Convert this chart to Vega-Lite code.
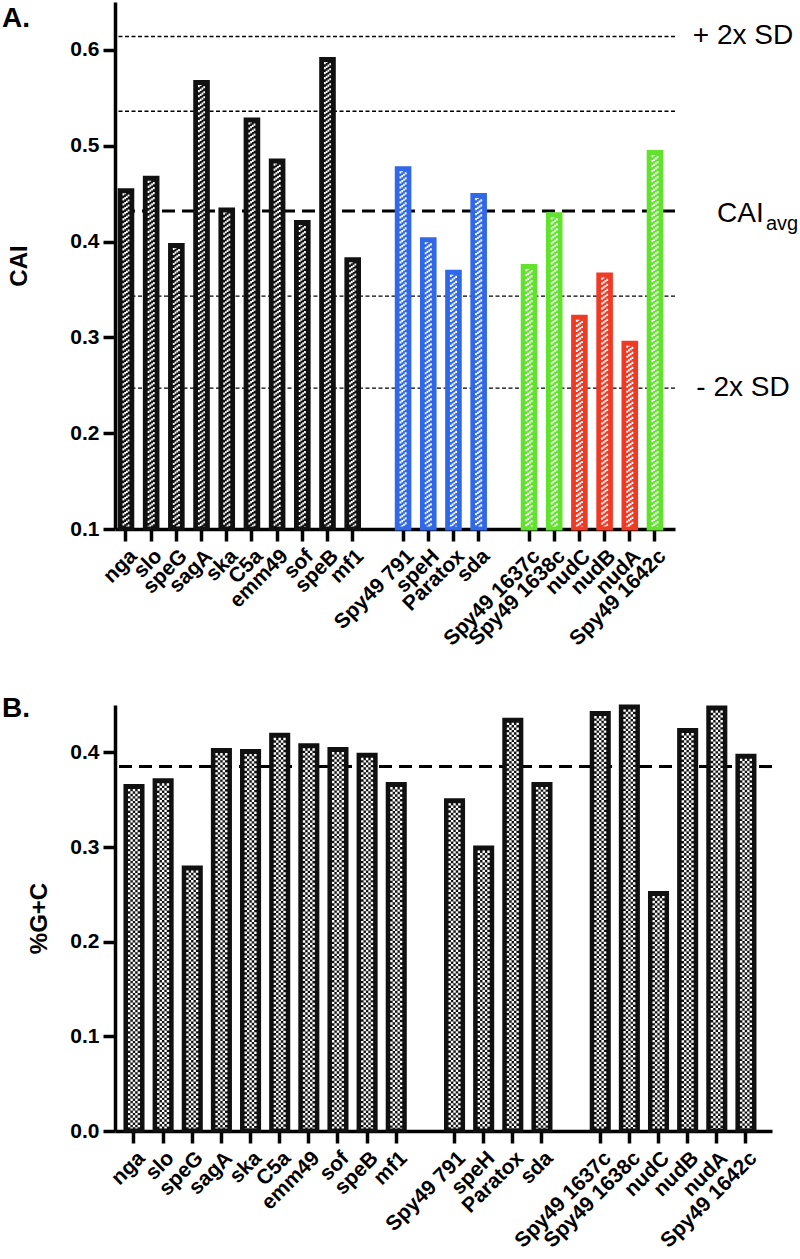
{
  "$schema": "https://vega.github.io/schema/vega-lite/v6.json",
  "background": "white",
  "padding": {"left": 2, "top": 2, "right": 0, "bottom": 0},
  "spacing": 45,
  "datasets": {
    "cai": [
      {"gene": "nga", "CAI": 0.454, "set": "virulence"},
      {"gene": "slo", "CAI": 0.467, "set": "virulence"},
      {"gene": "speG", "CAI": 0.397, "set": "virulence"},
      {"gene": "sagA", "CAI": 0.567, "set": "virulence"},
      {"gene": "ska", "CAI": 0.434, "set": "virulence"},
      {"gene": "C5a", "CAI": 0.528, "set": "virulence"},
      {"gene": "emm49", "CAI": 0.485, "set": "virulence"},
      {"gene": "sof", "CAI": 0.421, "set": "virulence"},
      {"gene": "speB", "CAI": 0.591, "set": "virulence"},
      {"gene": "mf1", "CAI": 0.382, "set": "virulence"},
      {"gene": "Spy49 791", "CAI": 0.477, "set": "prophage"},
      {"gene": "speH", "CAI": 0.403, "set": "prophage"},
      {"gene": "Paratox", "CAI": 0.369, "set": "prophage"},
      {"gene": "sda", "CAI": 0.449, "set": "prophage"},
      {"gene": "Spy49 1637c", "CAI": 0.375, "set": "locus"},
      {"gene": "Spy49 1638c", "CAI": 0.429, "set": "locus"},
      {"gene": "nudC", "CAI": 0.322, "set": "nudix"},
      {"gene": "nudB", "CAI": 0.366, "set": "nudix"},
      {"gene": "nudA", "CAI": 0.295, "set": "nudix"},
      {"gene": "Spy49 1642c", "CAI": 0.494, "set": "locus"}
    ],
    "gc": [
      {"gene": "nga", "GC": 0.365},
      {"gene": "slo", "GC": 0.371},
      {"gene": "speG", "GC": 0.279},
      {"gene": "sagA", "GC": 0.403},
      {"gene": "ska", "GC": 0.402},
      {"gene": "C5a", "GC": 0.419},
      {"gene": "emm49", "GC": 0.408},
      {"gene": "sof", "GC": 0.404},
      {"gene": "speB", "GC": 0.398},
      {"gene": "mf1", "GC": 0.367},
      {"gene": "Spy49 791", "GC": 0.350},
      {"gene": "speH", "GC": 0.300},
      {"gene": "Paratox", "GC": 0.435},
      {"gene": "sda", "GC": 0.367},
      {"gene": "Spy49 1637c", "GC": 0.442},
      {"gene": "Spy49 1638c", "GC": 0.449},
      {"gene": "nudC", "GC": 0.252},
      {"gene": "nudB", "GC": 0.424},
      {"gene": "nudA", "GC": 0.448},
      {"gene": "Spy49 1642c", "GC": 0.397}
    ],
    "sd": [
      {"line": "plus2", "value": 0.614, "label": "+ 2x SD"},
      {"line": "plus1", "value": 0.536, "label": ""},
      {"line": "minus1", "value": 0.343, "label": ""},
      {"line": "minus2", "value": 0.247, "label": "- 2x SD"}
    ],
    "avg": [{"value": 0.432, "label": "CAI", "sub": "avg"}],
    "gcavg": [{"value": 0.385}]
  },
  "config": {
    "view": {"stroke": null},
    "font": "Liberation Sans",
    "axis": {
      "grid": false,
      "domainColor": "black",
      "domainWidth": 3.5,
      "tickColor": "black",
      "tickWidth": 3.5,
      "tickSize": 12,
      "labelColor": "black",
      "labelFont": "Liberation Sans",
      "labelFontWeight": "bold",
      "titleFont": "Liberation Sans",
      "titleFontWeight": "bold",
      "titleColor": "black"
    },
    "axisY": {"labelFontSize": 21, "labelPadding": 4},
    "axisX": {"labelFontSize": 21, "labelAngle": -45, "labelPadding": 4}
  },
  "vconcat": [
    {
      "width": 560,
      "height": 527,
      "title": {"text": "A.", "anchor": "start", "frame": "group", "dx": -113, "offset": -53, "baseline": "alphabetic", "fontSize": 28, "fontWeight": "bold", "font": "Liberation Sans", "color": "black"},
      "layer": [
        {
          "data": {"name": "sd"},
          "mark": {"type": "rule", "color": "black", "strokeWidth": 1.3, "strokeDash": [4, 2.5]},
          "encoding": {"y": {"field": "value", "type": "quantitative", "scale": {"domain": [0.1, 0.65], "zero": false, "nice": false}}}
        },
        {
          "data": {"name": "avg"},
          "mark": {"type": "rule", "color": "black", "strokeWidth": 3, "strokeDash": [13, 7]},
          "encoding": {"y": {"field": "value", "type": "quantitative"}}
        },
        {
          "data": {"name": "cai"},
          "mark": {"type": "bar", "strokeWidth": 3},
          "encoding": {
            "x": {
              "field": "gene", "type": "nominal", "sort": null,
              "scale": {"domain": ["nga","slo","speG","sagA","ska","C5a","emm49","sof","speB","mf1","gap1","Spy49 791","speH","Paratox","sda","gap2","Spy49 1637c","Spy49 1638c","nudC","nudB","nudA","Spy49 1642c"], "paddingInner": 0.46, "paddingOuter": 0.345, "align": 0.24},
              "axis": {"title": null, "labelExpr": "indexof(datum.value,'gap')===0 ? '' : datum.value", "tickOpacity": {"condition": {"test": "indexof(datum.value,'gap')===0", "value": 0}, "value": 1}}
            },
            "y": {"field": "CAI", "type": "quantitative", "scale": {"domain": [0.1, 0.65], "zero": false, "nice": false}, "axis": {"title": "CAI", "titleFontSize": 24, "titlePadding": 38, "values": [0.1, 0.2, 0.3, 0.4, 0.5, 0.6], "format": ".1f"}},
            "y2": {"datum": 0.1},
            "fill": {"field": "set", "type": "nominal", "scale": {"domain": ["virulence","prophage","locus","nudix"], "range": ["#111111","#3068e8","#62e22f","#ee3b26"]}, "legend": null},
            "stroke": {"field": "set", "type": "nominal", "scale": {"domain": ["virulence","prophage","locus","nudix"], "range": ["#111111","#3068e8","#62e22f","#ee3b26"]}, "legend": null}
          }
        },
        {
          "data": {"name": "cai"},
          "mark": {"type": "rule", "color": "white", "strokeWidth": 1.75, "strokeDash": [2.2, 2.8], "strokeDashOffset": 0, "xOffset": -2.625, "yOffset": 3.5, "y2Offset": -2.5},
          "encoding": {"x": {"field": "gene", "type": "nominal"}, "y": {"field": "CAI", "type": "quantitative"}, "y2": {"datum": 0.1}}
        },
        {
          "data": {"name": "cai"},
          "mark": {"type": "rule", "color": "white", "strokeWidth": 1.75, "strokeDash": [2.2, 2.8], "strokeDashOffset": 1.3, "xOffset": -0.875, "yOffset": 3.5, "y2Offset": -2.5},
          "encoding": {"x": {"field": "gene", "type": "nominal"}, "y": {"field": "CAI", "type": "quantitative"}, "y2": {"datum": 0.1}}
        },
        {
          "data": {"name": "cai"},
          "mark": {"type": "rule", "color": "white", "strokeWidth": 1.75, "strokeDash": [2.2, 2.8], "strokeDashOffset": 2.6, "xOffset": 0.875, "yOffset": 3.5, "y2Offset": -2.5},
          "encoding": {"x": {"field": "gene", "type": "nominal"}, "y": {"field": "CAI", "type": "quantitative"}, "y2": {"datum": 0.1}}
        },
        {
          "data": {"name": "cai"},
          "mark": {"type": "rule", "color": "white", "strokeWidth": 1.75, "strokeDash": [2.2, 2.8], "strokeDashOffset": 3.9, "xOffset": 2.625, "yOffset": 3.5, "y2Offset": -2.5},
          "encoding": {"x": {"field": "gene", "type": "nominal"}, "y": {"field": "CAI", "type": "quantitative"}, "y2": {"datum": 0.1}}
        },
        {
          "data": {"name": "sd"},
          "transform": [{"filter": "datum.label !== ''"}],
          "mark": {"type": "text", "align": "center", "baseline": "middle", "dx": 68, "fontSize": 28, "font": "Liberation Sans", "color": "black"},
          "encoding": {"x": {"value": "width"}, "y": {"field": "value", "type": "quantitative"}, "text": {"field": "label"}}
        },
        {
          "data": {"name": "avg"},
          "mark": {"type": "text", "align": "left", "baseline": "alphabetic", "dx": 42, "dy": 11, "fontSize": 28, "font": "Liberation Sans", "color": "black"},
          "encoding": {"x": {"value": "width"}, "y": {"field": "value", "type": "quantitative"}, "text": {"field": "label"}}
        },
        {
          "data": {"name": "avg"},
          "mark": {"type": "text", "align": "left", "baseline": "alphabetic", "dx": 91, "dy": 19, "fontSize": 20, "font": "Liberation Sans", "color": "black"},
          "encoding": {"x": {"value": "width"}, "y": {"field": "value", "type": "quantitative"}, "text": {"field": "sub"}}
        }
      ]
    },
    {
      "width": 657,
      "height": 426,
      "title": {"text": "B.", "anchor": "start", "frame": "group", "dx": -113, "offset": -41, "baseline": "alphabetic", "fontSize": 28, "fontWeight": "bold", "font": "Liberation Sans", "color": "black"},
      "layer": [
        {
          "data": {"name": "gcavg"},
          "mark": {"type": "rule", "color": "black", "strokeWidth": 3, "strokeDash": [13, 7]},
          "encoding": {"y": {"field": "value", "type": "quantitative", "scale": {"domain": [0, 0.45], "nice": false}}}
        },
        {
          "data": {"name": "gc"},
          "mark": {"type": "bar", "strokeWidth": 3, "fill": "#111111", "stroke": "#111111"},
          "encoding": {
            "x": {
              "field": "gene", "type": "nominal", "sort": null,
              "scale": {"domain": ["nga","slo","speG","sagA","ska","C5a","emm49","sof","speB","mf1","gap1","Spy49 791","speH","Paratox","sda","gap2","Spy49 1637c","Spy49 1638c","nudC","nudB","nudA","Spy49 1642c"], "paddingInner": 0.38, "paddingOuter": 0.463, "align": 0.369},
              "axis": {"title": null, "labelExpr": "indexof(datum.value,'gap')===0 ? '' : datum.value", "tickOpacity": {"condition": {"test": "indexof(datum.value,'gap')===0", "value": 0}, "value": 1}}
            },
            "y": {"field": "GC", "type": "quantitative", "scale": {"domain": [0, 0.45], "nice": false}, "axis": {"title": "%G+C", "titleFontSize": 24, "titlePadding": 18, "values": [0, 0.1, 0.2, 0.3, 0.4], "format": ".1f"}}
          }
        },
        {
          "data": {"name": "gc"},
          "mark": {"type": "rule", "color": "white", "strokeWidth": 2.4, "strokeDash": [2.4, 2.4], "strokeDashOffset": 0, "xOffset": -4.8, "yOffset": 3.5, "y2Offset": -2.5},
          "encoding": {"x": {"field": "gene", "type": "nominal"}, "y": {"field": "GC", "type": "quantitative"}, "y2": {"datum": 0}}
        },
        {
          "data": {"name": "gc"},
          "mark": {"type": "rule", "color": "white", "strokeWidth": 2.4, "strokeDash": [2.4, 2.4], "strokeDashOffset": 2.4, "xOffset": -2.4, "yOffset": 3.5, "y2Offset": -2.5},
          "encoding": {"x": {"field": "gene", "type": "nominal"}, "y": {"field": "GC", "type": "quantitative"}, "y2": {"datum": 0}}
        },
        {
          "data": {"name": "gc"},
          "mark": {"type": "rule", "color": "white", "strokeWidth": 2.4, "strokeDash": [2.4, 2.4], "strokeDashOffset": 0, "xOffset": 0, "yOffset": 3.5, "y2Offset": -2.5},
          "encoding": {"x": {"field": "gene", "type": "nominal"}, "y": {"field": "GC", "type": "quantitative"}, "y2": {"datum": 0}}
        },
        {
          "data": {"name": "gc"},
          "mark": {"type": "rule", "color": "white", "strokeWidth": 2.4, "strokeDash": [2.4, 2.4], "strokeDashOffset": 2.4, "xOffset": 2.4, "yOffset": 3.5, "y2Offset": -2.5},
          "encoding": {"x": {"field": "gene", "type": "nominal"}, "y": {"field": "GC", "type": "quantitative"}, "y2": {"datum": 0}}
        },
        {
          "data": {"name": "gc"},
          "mark": {"type": "rule", "color": "white", "strokeWidth": 2.4, "strokeDash": [2.4, 2.4], "strokeDashOffset": 0, "xOffset": 4.8, "yOffset": 3.5, "y2Offset": -2.5},
          "encoding": {"x": {"field": "gene", "type": "nominal"}, "y": {"field": "GC", "type": "quantitative"}, "y2": {"datum": 0}}
        }
      ]
    }
  ]
}
